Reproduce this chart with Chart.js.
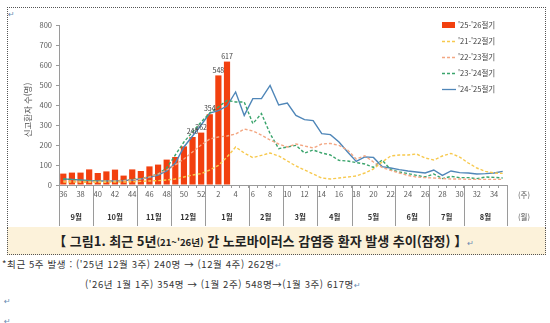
<!DOCTYPE html>
<html lang="ko">
<head>
    <meta charset="UTF-8">
    <title>노로바이러스 감염증 환자 발생 추이</title>
    <script src="https://cdn.jsdelivr.net/npm/chart.js"></script>
    <style>
        body {
            margin: 0;
            width: 550px;
            height: 323px;
            background: #fff;
            position: relative;
            overflow: hidden;
            font-family: "Noto Sans CJK KR", sans-serif;
        }
        /* dotted frame round the figure */
        .frame {
            position: absolute;
            left: 7px; top: 7px;
            width: 539px; height: 221px;
            border: 1px dotted #555;
            box-sizing: border-box;
        }
        #wrap {
            position: absolute;
            left: 0; top: 0;
            width: 550px; height: 228px;
        }
        .caption {
            position: absolute;
            left: 7px; top: 227px;
            width: 539px; height: 28px;
            background: #fcf2da;
            border: 1px dotted #555;
            border-top: none;
            box-sizing: border-box;
            text-align: center;
            padding-right: 26px;
            font-weight: bold;
            font-size: 13px;
            line-height: 27px;
            color: #222;
            white-space: nowrap;
        }
        .caption small { font-size: 9.5px; font-weight: bold; }
        .note {
            position: absolute;
            font-size: 9.5px;
            letter-spacing: 0.6px;
            color: #333;
            white-space: nowrap;
            line-height: 12px;
        }
        .pm { font-family: "DejaVu Sans"; color: #6a8bb3; font-size: 8px; font-weight: normal; letter-spacing: 0; }
    </style>
</head>
<body>

    <div class="frame"></div>
    <span class="note pm" style="left:8px; top:9px;">↵</span>
    <div id="wrap"><canvas id="noroChart" width="550" height="228"></canvas></div>

    <div class="caption">【 그림1. 최근 5년<small>(21~'26년)</small> 간 노로바이러스 감염증 환자 발생 추이(잠정) 】<span class="pm">↵</span></div>

    <div class="note" style="left:2px; top:258px;">*최근 5주 발생 : ('25년 12월 3주) 240명 → (12월 4주) 262명<span class="pm">↵</span></div>
    <div class="note" style="left:85px; top:278px;">('26년 1월 1주) 354명 → (1월 2주) 548명→(1월 3주) 617명<span class="pm">↵</span></div>
    <span class="note pm" style="left:4px; top:296px;">↵</span>
    <span class="note pm" style="left:4px; top:316px;">↵</span>

    <script>
        // x categories: epi weeks from week 36 to week 35 of the next year
        const weeks = ['36','37','38','39','40','41','42','43','44','45','46','47','48','49','50','51','52',
                       '1','2','3','4','5','6','7','8','9','10','11','12','13','14','15','16','17','18',
                       '19','20','21','22','23','24','25','26','27','28','29','30','31','32','33','34','35'];
        const months = ['9월','10월','11월','12월','1월','2월','3월','4월','5월','6월','7월','8월'];
        const monthWeeks = [4, 5, 4, 4, 5, 4, 4, 4, 5, 4, 4, 5];

        const seasonNames = ["'25-'26절기", "'21-'22절기", "'22-'23절기", "'23-'24절기", "'24-'25절기"];

        // current season (bars), up to week 3
        const s2526 = [57,62,62,78,60,68,77,47,78,70,93,102,127,140,193,240,262,354,548,617];
        const labelled = [240, 262, 354, 548, 617];

        const s2122 = [15,15,14,14,14,14,15,15,16,18,20,22,25,30,40,50,57,
                       75,98,140,190,160,137,148,160,145,120,95,75,55,35,30,35,40,45,
                       60,80,115,145,150,150,155,135,125,145,158,140,110,85,68,60,58];
        const s2223 = [20,20,18,18,18,20,20,22,25,30,40,55,75,100,130,165,200,
                       230,240,245,255,280,270,250,225,205,190,205,195,185,205,208,198,175,130,
                       146,115,88,73,60,48,40,37,35,32,30,30,28,28,28,28,28];
        const s2324 = [30,27,24,22,20,20,21,23,27,33,42,55,85,150,215,265,315,
                       360,390,423,415,415,307,357,257,182,190,198,160,175,160,150,123,120,112,
                       105,88,125,77,65,57,48,40,55,32,43,37,37,32,40,38,35];
        const s2425 = [30,28,25,22,20,20,20,22,25,30,38,50,70,110,190,245,300,
                       360,372,395,465,348,432,432,498,400,410,348,327,322,257,252,215,165,118,
                       140,138,92,85,77,70,65,60,75,48,70,62,60,55,57,60,68];

        const barColor = '#f2400f';
        const lineColors = ['#f7c94e', '#f3a783', '#3aa46c', '#4f86b8'];
        const tickColor = '#595959';
        const fontFamily = '"Noto Sans CJK KR", sans-serif';

        // draws month rows, unit labels, axis title, legend and bar labels
        const decorations = {
            id: 'decorations',
            afterDatasetsDraw(chart) {
                const ctx = chart.ctx;
                const meta = chart.getDatasetMeta(4);
                ctx.save();
                ctx.fillStyle = '#404040';
                ctx.font = '7px ' + fontFamily;
                ctx.textAlign = 'center';
                ctx.textBaseline = 'bottom';
                s2526.forEach((v, i) => {
                    if (labelled.includes(v)) {
                        const bar = meta.data[i];
                        ctx.fillText(String(v), bar.x, bar.y - 2);
                    }
                });
                ctx.restore();
            },
            afterDraw(chart) {
                const ctx = chart.ctx;
                const x = chart.scales.x;
                const area = chart.chartArea;
                const half = (x.getPixelForValue(1) - x.getPixelForValue(0)) / 2;
                ctx.save();

                // month separators and month names
                ctx.strokeStyle = '#9a9a9a';
                ctx.lineWidth = 1;
                ctx.fillStyle = '#333';
                ctx.font = 'bold 7.5px ' + fontFamily;
                ctx.textAlign = 'center';
                ctx.textBaseline = 'middle';
                let start = 0;
                monthWeeks.forEach((n, m) => {
                    const left = x.getPixelForValue(start) - half;
                    const right = x.getPixelForValue(start + n - 1) + half;
                    [left, right].forEach(px => {
                        ctx.beginPath();
                        ctx.moveTo(Math.round(px) + 0.5, area.bottom);
                        ctx.lineTo(Math.round(px) + 0.5, 226);
                        ctx.stroke();
                    });
                    ctx.fillText(months[m], (left + right) / 2, 217);
                    start += n;
                });

                // unit labels at the right end
                ctx.font = '7.5px ' + fontFamily;
                ctx.fillStyle = '#555';
                ctx.fillText('(주)', 524, 195);
                ctx.fillText('(월)', 524, 217);

                // y axis title
                ctx.save();
                ctx.translate(28, 110);
                ctx.rotate(-Math.PI / 2);
                ctx.font = '8.5px ' + fontFamily;
                ctx.fillText('신고환자 수(명)', 0, 0);
                ctx.restore();

                // legend
                ctx.textAlign = 'left';
                ctx.font = '7.5px ' + fontFamily;
                ctx.fillStyle = '#404040';
                seasonNames.forEach((name, i) => {
                    const y = 25 + i * 16;
                    if (i === 0) {
                        ctx.fillStyle = barColor;
                        ctx.fillRect(442, y - 3, 13, 6);
                    } else {
                        ctx.strokeStyle = lineColors[i - 1];
                        ctx.lineWidth = 1.3;
                        ctx.setLineDash(i < 4 ? [3, 2] : []);
                        ctx.beginPath();
                        ctx.moveTo(442, y + 0.5);
                        ctx.lineTo(456, y + 0.5);
                        ctx.stroke();
                        ctx.setLineDash([]);
                    }
                    ctx.fillStyle = '#404040';
                    ctx.fillText(name, 458, y);
                });
                ctx.restore();
            }
        };

        function lineSet(label, data, color, dashed) {
            return {
                type: 'line',
                label: label,
                data: data,
                borderColor: color,
                backgroundColor: color,
                borderWidth: 1.4,
                borderDash: dashed ? [3, 2] : [],
                pointRadius: 0,
                tension: 0,
                fill: false,
                order: 1
            };
        }

        new Chart(document.getElementById('noroChart'), {
            type: 'bar',
            data: {
                labels: weeks,
                datasets: [
                    lineSet(seasonNames[1], s2122, lineColors[0], true),
                    lineSet(seasonNames[2], s2223, lineColors[1], true),
                    lineSet(seasonNames[3], s2324, lineColors[2], true),
                    lineSet(seasonNames[4], s2425, lineColors[3], false),
                    {
                        type: 'bar',
                        label: seasonNames[0],
                        data: s2526,
                        backgroundColor: barColor,
                        barPercentage: 0.72,
                        categoryPercentage: 1,
                        order: 10
                    }
                ]
            },
            options: {
                responsive: false,
                animation: false,
                layout: { padding: { left: 0, top: 25, right: 43, bottom: 3 } },
                plugins: {
                    legend: { display: false },
                    tooltip: { enabled: false }
                },
                scales: {
                    x: {
                        afterFit: s => { s.height = 40; },
                        border: { color: '#9a9a9a' },
                        grid: { drawOnChartArea: false, drawTicks: true, tickLength: 3, color: '#9a9a9a' },
                        ticks: {
                            autoSkip: false,
                            maxRotation: 0,
                            padding: 2,
                            color: tickColor,
                            font: { size: 7.5, family: fontFamily },
                            callback: (v, i) => (i % 2 === 0 ? weeks[i] : '')
                        }
                    },
                    y: {
                        min: 0,
                        max: 800,
                        afterFit: s => { s.width = 59; },
                        border: { color: '#9a9a9a' },
                        grid: { drawOnChartArea: false, drawTicks: true, tickLength: 3, color: '#9a9a9a' },
                        ticks: {
                            stepSize: 100,
                            padding: 4,
                            color: tickColor,
                            font: { size: 7.5, family: fontFamily }
                        }
                    }
                }
            },
            plugins: [decorations]
        });
    </script>
</body>
</html>
